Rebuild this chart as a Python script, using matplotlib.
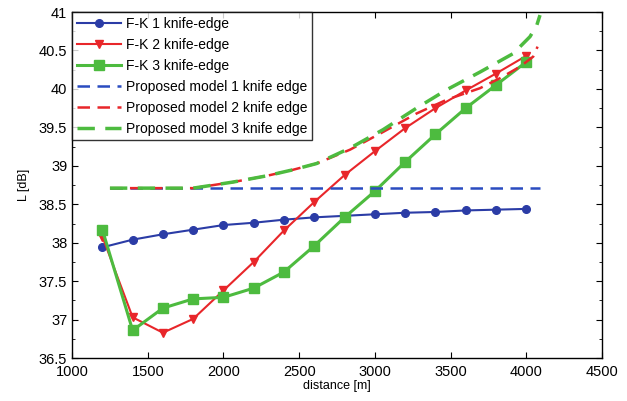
import matplotlib
matplotlib.use("Agg")
import matplotlib.pyplot as plt
from matplotlib.ticker import MultipleLocator, FormatStrFormatter

plt.rcParams['font.family'] = ['Liberation Sans', 'DejaVu Sans']

distance = [1200, 1400, 1600, 1800, 2000, 2200, 2400, 2600, 2800, 3000,
            3200, 3400, 3600, 3800, 4000]
fk1 = [37.94, 38.04, 38.11, 38.17, 38.23, 38.26, 38.30, 38.33, 38.35, 38.37,
       38.39, 38.40, 38.42, 38.43, 38.44]
fk2 = [38.08, 37.03, 36.83, 37.01, 37.38, 37.75, 38.16, 38.53, 38.88, 39.19,
       39.49, 39.75, 39.98, 40.20, 40.43]
fk3 = [38.17, 36.86, 37.15, 37.27, 37.29, 37.41, 37.62, 37.96, 38.33, 38.67,
       39.05, 39.41, 39.75, 40.05, 40.35]

pm1_x = [1250, 4090]
pm1_y = [38.71, 38.71]
pm2_x = [1250, 1800, 2066, 2286, 2462, 2615, 2836, 3054, 3275, 3475, 3695,
         3827, 3959, 4046, 4075]
pm2_y = [38.71, 38.71, 38.79, 38.87, 38.95, 39.03, 39.21, 39.44, 39.68, 39.86,
         40.01, 40.14, 40.29, 40.42, 40.55]
pm3_x = [1250, 1800, 2066, 2286, 2462, 2615, 2836, 3054, 3275, 3475, 3695,
         3914, 4025, 4070, 4091]
pm3_y = [38.71, 38.71, 38.79, 38.87, 38.95, 39.03, 39.23, 39.47, 39.75, 39.99,
         40.22, 40.46, 40.68, 40.83, 40.96]

labels = ['F-K 1 knife-edge', 'F-K 2 knife-edge', 'F-K 3 knife-edge',
          'Proposed model 1 knife edge', 'Proposed model 2 knife edge',
          'Proposed model 3 knife edge']

blue = '#2b3ca6'
red = '#e8262a'
green = '#4dbb3f'

fig = plt.figure(figsize=(6.27, 4.01), dpi=100)
ax = fig.add_axes([0.115, 0.107, 0.845, 0.863])

ax.plot(distance, fk1, color=blue, lw=1.5, marker='o', ms=5.5, label=labels[0])
ax.plot(distance, fk2, color=red, lw=1.5, marker='v', ms=6, label=labels[1])
ax.plot(distance, fk3, color=green, lw=2.2, marker='s', ms=7, label=labels[2])
ax.plot(pm1_x, pm1_y, color='#2a4cc0', lw=1.8, ls=(0, (5, 3)), label=labels[3])
ax.plot(pm2_x, pm2_y, color=red, lw=1.8, ls=(0, (5, 3)), label=labels[4])
ax.plot(pm3_x, pm3_y, color=green, lw=2.5, ls=(0, (5, 3)), label=labels[5])

ax.set_xlim(1000, 4500)
ax.set_ylim(36.5, 41)
ax.xaxis.set_major_locator(MultipleLocator(500))
ax.yaxis.set_major_locator(MultipleLocator(0.5))
ax.yaxis.set_minor_locator(MultipleLocator(0.25))
ax.yaxis.set_major_formatter(FormatStrFormatter('%g'))
ax.xaxis.set_major_formatter(FormatStrFormatter('%g'))
ax.tick_params(which='both', direction='in', top=True, right=True, labelsize=10.5)
ax.tick_params(which='major', length=4)
ax.tick_params(which='minor', length=2.5)
ax.tick_params(axis='x', pad=5)
for s in ax.spines.values():
    s.set_linewidth(1.0)
ax.set_xlabel('distance [m]', fontsize=9, labelpad=1)
ax.set_ylabel('L [dB]', fontsize=9, labelpad=6)

leg = ax.legend(loc='upper left', fontsize=10, frameon=True, fancybox=False,
                edgecolor='black', borderaxespad=0.0, handlelength=3.2,
                labelspacing=0.5, borderpad=0.35, handletextpad=0.3)
leg.get_frame().set_linewidth(1.0)

fig.savefig('out.png', dpi=100)
